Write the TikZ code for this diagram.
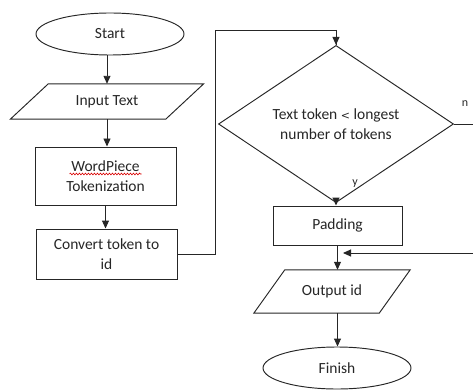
\documentclass[tikz,border=0pt]{standalone}
\usepackage{fontspec}
\setmainfont{Carlito}
\usetikzlibrary{shapes.geometric,arrows.meta,decorations.pathmorphing}

\begin{document}
\begin{tikzpicture}[x=1pt,y=-1pt,
  every node/.style={font=\fontsize{15.5}{19.5}\selectfont, text=black!85, align=center, inner sep=0pt},
  line/.style={draw=black!85, line width=0.95pt},
  flow/.style={line, -{Triangle[width=7pt,length=8pt]}},
  terminal/.style={ellipse, line, minimum width=148pt, minimum height=42pt},
  process/.style={rectangle, line},
  io/.style={rectangle, minimum height=35pt},
  decision/.style={diamond, line, minimum width=235pt, minimum height=107pt},
  tag/.style={font=\fontsize{12}{14}\selectfont}
]
\useasboundingbox (0,0) rectangle (473,390);
\clip (0,0) rectangle (473,390);

% left column
\node[terminal] (start) at (110,34) {Start};
\node[io, minimum width=155pt] (input) at (107,101.5) {Input Text};
\draw[line] ([xshift=19pt]input.north west) -- ([xshift=19pt]input.north east)
  -- ([xshift=-19pt]input.south east) -- ([xshift=-19pt]input.south west) -- cycle;
\node[process, minimum width=141pt, minimum height=58pt] (word) at (105.5,176) {WordPiece\\Tokenization};
\draw[red!85!black, line width=0.6pt, decorate, decoration={snake, amplitude=0.9pt, segment length=3pt}]
  ([xshift=-36pt,yshift=2pt]word.center) -- ([xshift=36pt,yshift=2pt]word.center);
\node[process, minimum width=141pt, minimum height=50pt] (convert) at (106.5,254) {Convert token to\\id};

% right column
\node[decision] (check) at (336,124) {Text token {\fontspec{DejaVu Sans}\fontsize{11}{14}\selectfont<} longest\\number of tokens};
\node[process, minimum width=129pt, minimum height=39pt] (pad) at (337.5,225.5) {Padding};
\node[io, minimum width=125pt, minimum height=43pt] (output) at (332,291.5) {Output id};
\draw[line] ([xshift=15.5pt]output.north west) -- ([xshift=15.5pt]output.north east)
  -- ([xshift=-15.5pt]output.south east) -- ([xshift=-15.5pt]output.south west) -- cycle;
\node[terminal] (finish) at (337,368) {Finish};

% branch labels
\node[tag] (nlab) at (465,104) {n};
\node[tag] (ylab) at (355,184) {y};

% helper points of the connectors
\coordinate (c1) at (215,254);
\coordinate (c2) at (215,30);
\coordinate (c3) at (480,124);
\coordinate (c4) at (480,253);
\coordinate (join) at (343,253);

% connectors
\draw[flow] (input.north |- start.south) -- (input.north);
\draw[flow] (input.south) -- (input.south |- word.north);
\draw[flow] (word.south) -- (word.south |- convert.north);
\draw[line] (convert.east) -- (c1) -- (c2) -| (check.north);
\draw[flow] (c2 -| check.north) -- (check.north);
\draw[flow] (check.south) -- (check.south |- pad.north);
\draw[flow] (pad.south) -- (pad.south |- output.north);
\draw[flow] (pad.south |- output.south) -- (pad.south |- finish.north);
\draw[flow] (check.east) -- (c3) -- (c4) -- (join);
\end{tikzpicture}
\end{document}
